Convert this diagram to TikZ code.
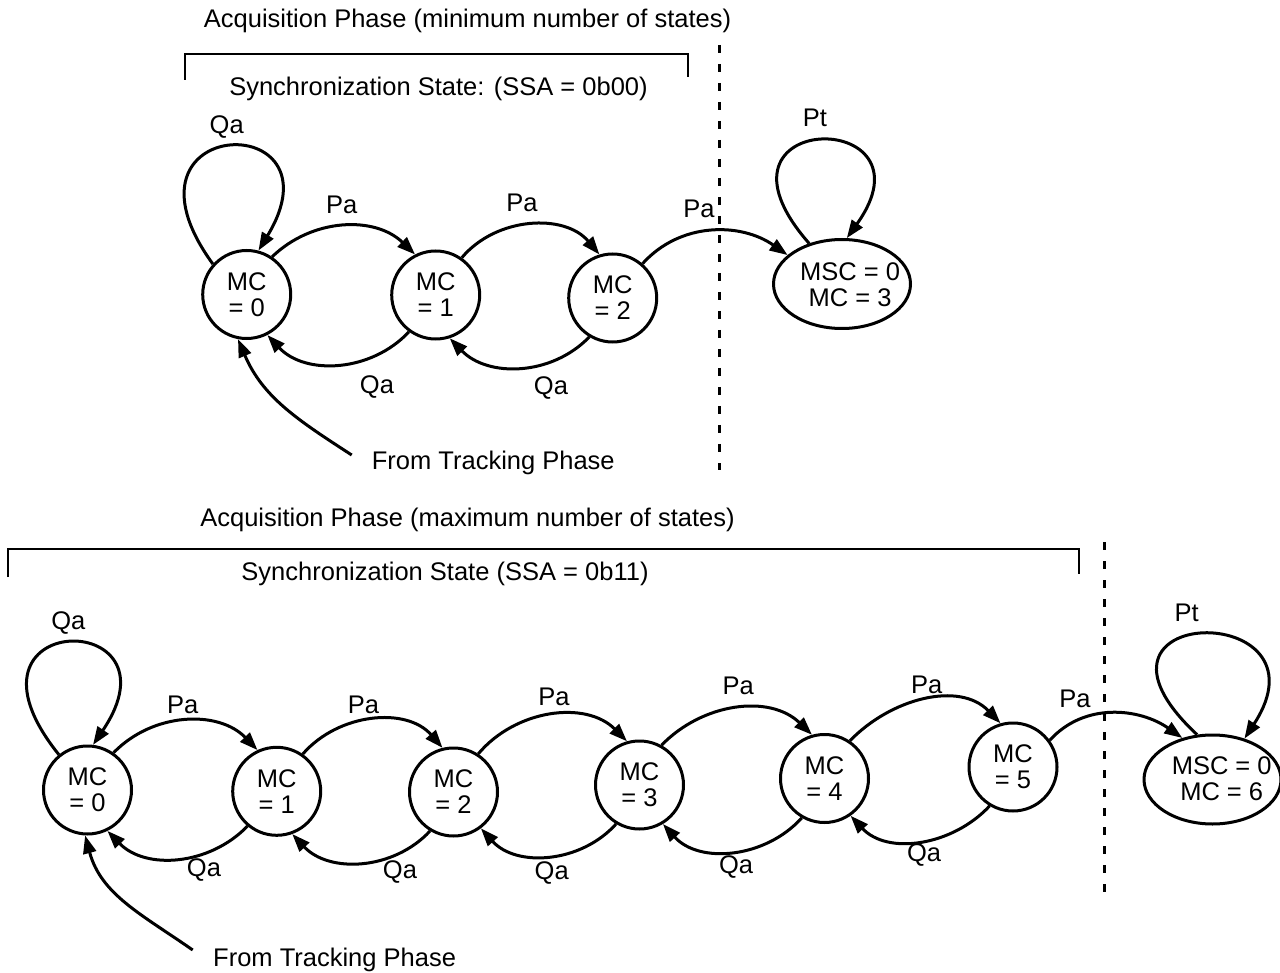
\documentclass[tikz,border=0pt]{standalone}
\usepackage{fontspec}
\setmainfont{Liberation Sans}
\usetikzlibrary{arrows.meta,shapes.geometric}
\begin{document}
\begin{tikzpicture}[x=1pt,y=1pt,
  every node/.style={font=\fontsize{25.5}{26}\selectfont},
  st/.style={circle,draw,line width=3pt,minimum size=88pt,inner sep=0pt,align=center},
  es/.style={ellipse,draw,line width=3pt,minimum width=137pt,minimum height=89pt,inner sep=0pt},
  lbl/.style={inner sep=0pt},
  arr/.style={line width=3pt,-{Triangle[length=18pt,width=13pt]}},
  brk/.style={line width=2.8pt},
  dsh/.style={line width=3pt,dash pattern=on 8pt off 11pt}]
\useasboundingbox (0,0) rectangle (1280,-973);

% ---------- top diagram ----------
\node[lbl] (title1) at (467.5,-21) {Acquisition Phase (minimum number of states)};
\node[lbl] (sync1) at (438.5,-89) {Synchronization State: (SSA = 0b00)};
\coordinate (k1a) at (185,-80);
\coordinate (k1b) at (688,-54);
\coordinate (k1c) at (688,-77);
\draw[brk] (k1a) |- (k1b) -- (k1c);
\coordinate (d1a) at (719,-45);
\coordinate (d1b) at (719,-470);
\draw[dsh] (d1a) -- (d1b);

\node[st] (A0) at (246.7,-294.5) {MC\\= 0};
\node[st] (A1) at (435.7,-295) {MC\\= 1};
\node[st] (A2) at (612.7,-298) {MC\\= 2};
\node[es] (M1) at (842,-284) {};
\node[lbl,align=center] (M1t) at (850,-284.5) {MSC = 0\\MC = 3};

\draw[arr] (A0.138) .. controls +(-109.3,150.3) and +(87.5,144) .. (A0.75);
\draw[arr] (A0.56) to[out=44,in=136] (A1.117);
\draw[arr] (A1.55) to[out=50,in=130] (A2.107);
\draw[arr] (A2.49) to[out=48,in=145] (M1.152);
\draw[arr] (A1.234) to[out=227,in=313] (A0.297);
\draw[arr] (A2.239) to[out=226,in=314] (A1.288);
\draw[arr] (M1.129) .. controls +(-118.5,135) and +(94.1,131.5) .. (M1.84);
\node[lbl,anchor=west] (ft1t) at (371.7,-463) {From Tracking Phase};
\coordinate (ft1) at (351.7,-455);
\draw[arr] (ft1) to[out=147,in=293] (A0.259);

\node[lbl] (q1) at (226.7,-126.7) {Qa};
\node[lbl] (p1) at (341.7,-205) {Pa};
\node[lbl] (p2) at (522,-203) {Pa};
\node[lbl] (p3) at (699,-209) {Pa};
\node[lbl] (pt1) at (815,-118) {Pt};
\node[lbl] (q2) at (377,-386.7) {Qa};
\node[lbl] (q3) at (551,-388) {Qa};

% ---------- bottom diagram ----------
\node[lbl] (title2) at (467.5,-520) {Acquisition Phase (maximum number of states)};
\node[lbl] (sync2) at (445,-574) {Synchronization State (SSA = 0b11)};
\coordinate (k2a) at (8,-577);
\coordinate (k2b) at (1079,-549);
\coordinate (k2c) at (1079,-574);
\draw[brk] (k2a) |- (k2b) -- (k2c);
\coordinate (d2a) at (1104,-542);
\coordinate (d2b) at (1104,-902);
\draw[dsh] (d2a) -- (d2b);

\node[st] (B0) at (87.5,-790) {MC\\= 0};
\node[st] (B1) at (276.7,-791.3) {MC\\= 1};
\node[st] (B2) at (453.5,-792) {MC\\= 2};
\node[st] (B3) at (639.5,-785) {MC\\= 3};
\node[st] (B4) at (824.5,-778.5) {MC\\= 4};
\node[st] (B5) at (1013,-767) {MC\\= 5};
\node[es] (M2) at (1212.5,-779.5) {};
\node[lbl,align=center] (M2t) at (1221.7,-779) {MSC = 0\\MC = 6};

\draw[arr] (B0.129) .. controls +(-117.3,146) and +(93.6,138.5) .. (B0.83);
\draw[arr] (B0.55) to[out=46,in=134] (B1.115);
\draw[arr] (B1.55) to[out=49,in=131] (B2.104);
\draw[arr] (B2.57) to[out=50,in=135] (B3.106);
\draw[arr] (B3.61) to[out=46,in=136] (B4.106);
\draw[arr] (B4.56) to[out=46,in=134] (B5.106);
\draw[arr] (B5.36) to[out=48,in=145] (M2.126);
\draw[arr] (B1.230) to[out=226,in=314] (B0.296);
\draw[arr] (B2.239) to[out=227,in=313] (B1.290);
\draw[arr] (B3.239) to[out=228,in=312] (B2.307);
\draw[arr] (B4.240) to[out=228,in=312] (B3.301);
\draw[arr] (B5.239) to[out=227,in=313] (B4.305);
\draw[arr] (M2.109) .. controls +(-141.5,132) and +(91.4,140) .. (M2.52);
\node[lbl,anchor=west] (ft2t) at (213,-960) {From Tracking Phase};
\coordinate (ft2) at (192.7,-950);
\draw[arr] (ft2) to[out=145,in=285] (B0.267);

\node[lbl] (bq0) at (68.3,-623.3) {Qa};
\node[lbl] (bp1) at (182.7,-705) {Pa};
\node[lbl] (bp2) at (363.5,-705) {Pa};
\node[lbl] (bp3) at (554,-696.7) {Pa};
\node[lbl] (bp4) at (738.3,-686) {Pa};
\node[lbl] (bp5) at (926.7,-685) {Pa};
\node[lbl] (bp6) at (1075,-699.3) {Pa};
\node[lbl] (bpt) at (1186.7,-613.3) {Pt};
\node[lbl] (bq1) at (204,-870) {Qa};
\node[lbl] (bq2) at (400,-871.7) {Qa};
\node[lbl] (bq3) at (551.7,-873.3) {Qa};
\node[lbl] (bq4) at (736,-866.7) {Qa};
\node[lbl] (bq5) at (924,-855) {Qa};
\end{tikzpicture}
\end{document}
